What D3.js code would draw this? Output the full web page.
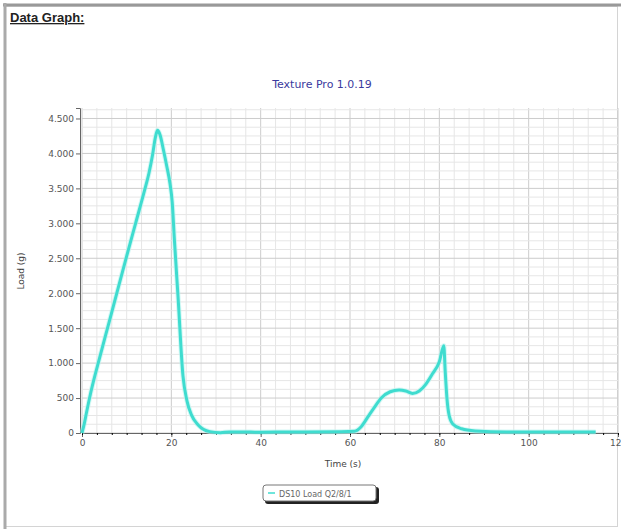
<!DOCTYPE html>
<html>
<head>
<meta charset="utf-8">
<script src="https://cdn.jsdelivr.net/npm/d3@7"></script>
<style>
  body { margin: 0; background: #fff; }
  svg { display: block; }
</style>
</head>
<body>
<div id="chart"></div>
<script>
// Time (s) and load (g)
const timeS = [0, 0.5, 1, 2, 4, 6, 8, 10, 12, 14, 15, 15.8, 16.4, 16.9, 17.5, 18.2, 19, 19.7,
  20.2, 20.7, 21.5, 22.6, 23.5, 24.5, 26, 28.6, 31, 33, 40, 50, 58, 61, 62.5, 64, 65.5, 67, 69, 71,
  72.5, 74, 75.5, 77, 78.5, 80, 81, 81.3, 81.7, 82.2, 83, 85, 88, 95, 105, 115];
const loadG = [0, 130, 290, 590, 1090, 1570, 2050, 2530, 3000, 3470, 3720, 3980, 4220, 4330, 4260, 4060, 3810, 3570,
  3300, 2750, 1950, 820, 460, 260, 115, 20, 5, 15, 12, 15, 18, 25, 90, 230, 370, 500, 590, 615,
  600, 565, 600, 700, 850, 1020, 1250, 900, 500, 250, 130, 60, 30, 15, 15, 15];
const xTicks = [0, 20, 40, 60, 80, 100, 120];
const yTicks = [0, 500, 1000, 1500, 2000, 2500, 3000, 3500, 4000, 4500];
const seriesName = "DS10 Load Q2/8/1";

const W = 621, H = 529;
const svg = d3.select("#chart").append("svg").attr("width", W).attr("height", H);

// outer frame
svg.append("rect").attr("x", 5.5).attr("y", 6.5).attr("width", 612).attr("height", 520)
  .attr("fill", "none").attr("stroke", "#d4d4d4");
svg.append("line").attr("x1", 3).attr("x2", W).attr("y1", 5).attr("y2", 5).attr("stroke", "#999").attr("stroke-width", 3);
svg.append("line").attr("x1", 5).attr("x2", 5).attr("y1", 3).attr("y2", H).attr("stroke", "#aaa").attr("stroke-width", 3);

svg.append("text").attr("x", 10).attr("y", 22)
  .style("font", "bold 13px 'Liberation Sans', Arial, sans-serif")
  .style("text-decoration", "underline").attr("fill", "#222").text("Data Graph:");

svg.append("text").attr("x", 322).attr("y", 88).attr("text-anchor", "middle")
  .style("font", "11px 'DejaVu Sans', sans-serif").attr("fill", "#3a3a9e").text("Texture Pro 1.0.19");

const x = d3.scaleLinear().domain([0, 120]).range([82, 618]);
const y = d3.scaleLinear().domain([0, 4650]).range([433, 108]);

const loc = d3.formatLocale({ decimal: ",", thousands: ".", grouping: [3], currency: ["", ""] });
const fmt = loc.format(",d");

// grid
const grid = svg.append("g");
const xMinor = d3.range(0, 120.01, 20 / 6);
const yMinor = d3.range(0, 4650, 125);
const isMajorX = d => Math.abs(d % 20) < 0.01 || Math.abs(d % 20 - 20) < 0.01;
grid.selectAll(".vx").data(xMinor).join("line")
  .attr("x1", d => x(d)).attr("x2", d => x(d)).attr("y1", y(4650)).attr("y2", y(0))
  .attr("stroke", d => isMajorX(d) ? "#cccccc" : "#e6e6e6").attr("stroke-width", 1);
grid.selectAll(".hy").data(yMinor).join("line")
  .attr("x1", x(0)).attr("x2", x(120)).attr("y1", d => y(d)).attr("y2", d => y(d))
  .attr("stroke", d => d % 500 === 0 ? "#cccccc" : "#e6e6e6").attr("stroke-width", 1);

// axes
const xAxis = svg.append("g").attr("transform", `translate(0,${y(0)})`)
  .call(d3.axisBottom(x).tickValues(xTicks).tickSize(4).tickPadding(3).tickFormat(d3.format("d")));
svg.append("g").attr("transform", `translate(0,${y(0)})`)
  .call(d3.axisBottom(x).tickValues(xMinor).tickSize(2).tickFormat(""))
  .call(g => g.select(".domain").remove());
const yAxis = svg.append("g").attr("transform", `translate(${x(0) - 2},0)`)
  .call(d3.axisLeft(y).tickValues(yTicks).tickSize(4).tickPadding(2).tickFormat(fmt));
[xAxis, yAxis].forEach(g => {
  g.select(".domain").attr("stroke", "#666");
  g.selectAll(".tick line").attr("stroke", "#666");
  g.selectAll(".tick text").attr("fill", "#555").style("font", "9px 'DejaVu Sans', sans-serif");
});

svg.append("text").attr("x", 343).attr("y", 467).attr("text-anchor", "middle")
  .style("font", "9px 'DejaVu Sans', sans-serif").attr("fill", "#444").text("Time (s)");
svg.append("text").attr("transform", "translate(24,271) rotate(-90)").attr("text-anchor", "middle")
  .style("font", "9px 'DejaVu Sans', sans-serif").attr("fill", "#444").text("Load (g)");

// series
const pts = timeS.map((t, i) => [t, loadG[i]]);
const line = d3.line().x(d => x(d[0])).y(d => y(d[1])).curve(d3.curveMonotoneX);
svg.append("path").datum(pts).attr("d", line).attr("fill", "none")
  .attr("stroke", "#b8f3ee").attr("stroke-width", 5).attr("stroke-linejoin", "round").attr("opacity", 0.6);
svg.append("path").datum(pts).attr("d", line).attr("fill", "none")
  .attr("stroke", "#3fdccf").attr("stroke-width", 3).attr("stroke-linejoin", "round");

// legend
const lg = svg.append("g").attr("transform", "translate(263,485)");
lg.append("rect").attr("x", 2).attr("y", 2).attr("width", 114).attr("height", 17).attr("rx", 3).attr("fill", "#222");
lg.append("rect").attr("x", 0).attr("y", 0).attr("width", 113).attr("height", 16).attr("rx", 3)
  .attr("fill", "#fff").attr("stroke", "#777");
lg.append("line").attr("x1", 5).attr("x2", 12).attr("y1", 8).attr("y2", 8).attr("stroke", "#3fdccf").attr("stroke-width", 1.5);
lg.append("text").attr("x", 16).attr("y", 11.5).style("font", "8px 'DejaVu Sans', sans-serif")
  .attr("fill", "#666").text(seriesName);
</script>
</body>
</html>
